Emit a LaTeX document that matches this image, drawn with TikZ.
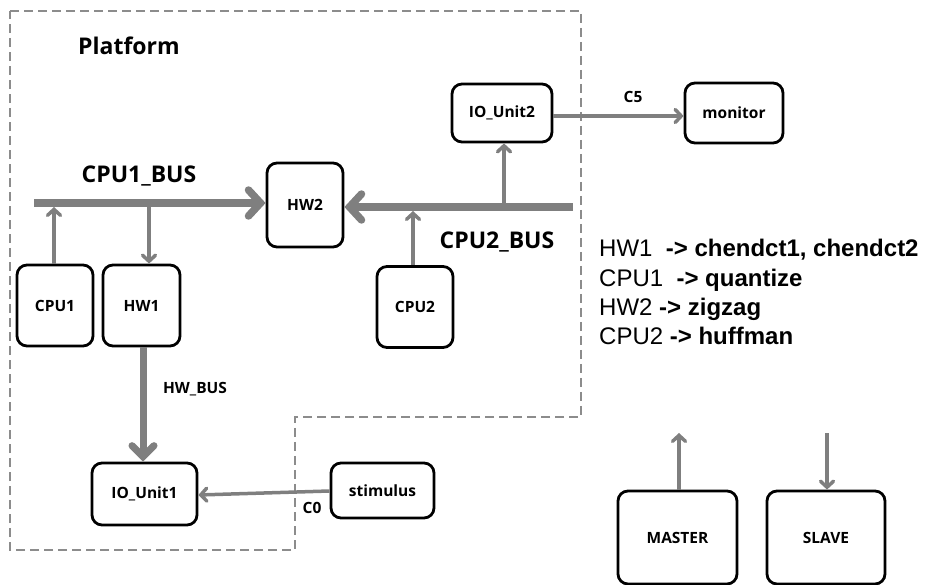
\documentclass[tikz,border=0pt]{standalone}
\usepackage{fontspec}
\setmainfont{Open Sans}
\newfontfamily\listfont{Liberation Sans}
\usetikzlibrary{arrows.meta}
\definecolor{linkgray}{HTML}{7F7F7F}
\definecolor{framegray}{HTML}{8C8C8C}
\tikzset{
  unit/.style={draw=black, line width=2.8pt, rounded corners=10pt, fill=white,
    inner sep=0pt, font=\fontsize{15.5}{18}\selectfont\bfseries},
  link/.style={draw=linkgray, line width=3.5pt,
    -{Straight Barb[length=6pt,width=13pt,line cap=round]}},
  bus/.style={draw=linkgray, line width=7.5pt,
    -{Straight Barb[length=12pt,width=26pt,line cap=round]}},
  hwbus/.style={draw=linkgray, line width=7pt,
    -{Straight Barb[length=11pt,width=22pt,line cap=round]}},
  title/.style={font=\fontsize{23}{27}\selectfont\bfseries},
  small/.style={font=\fontsize{15.5}{18}\selectfont\bfseries},
  maplist/.style={anchor=base west, inner sep=0pt, font=\listfont\fontsize{24}{28}\selectfont},
}
\begin{document}
\begin{tikzpicture}[x=1pt,y=-1pt]
\useasboundingbox (0,0) rectangle (927,585);

% platform boundary
\draw[framegray, line width=2.2pt, dash pattern=on 9pt off 5pt]
  (10,11) -- (581,11) -- (581,417) -- (295,417) -- (295,550) -- (10,550) -- cycle;
\node[title] (platform) at (129,46) {Platform};

% processing elements
\node[unit, minimum width=76pt, minimum height=84pt] (hw2) at (305,205) {HW2};
\node[unit, minimum width=100pt, minimum height=58pt] (io2) at (502,113) {IO\_Unit2};
\node[unit, minimum width=98pt, minimum height=60pt] (monitor) at (734,113) {monitor};
\node[unit, minimum width=76pt, minimum height=81pt] (cpu1) at (55,305.5) {CPU1};
\node[unit, minimum width=77pt, minimum height=81pt] (hw1) at (141.5,305.5) {HW1};
\node[unit, minimum width=76pt, minimum height=81pt] (cpu2) at (415,307) {CPU2};
\node[unit, minimum width=105pt, minimum height=62pt] (io1) at (144.5,494) {IO\_Unit1};
\node[unit, minimum width=103pt, minimum height=55pt] (stim) at (382.5,490.5) {stimulus};
\node[unit, minimum width=119pt, minimum height=93pt] (master) at (677.5,537.5) {MASTER};
\node[unit, minimum width=118pt, minimum height=93pt] (slave) at (826,537.5) {SLAVE};

% bus end points
\coordinate (b1start) at (34,203);
\coordinate (b2start) at (573,207);
\coordinate (mfree) at (679,433);
\coordinate (sfree) at (827,433);

% buses
\draw[bus] (b1start) -- (b1start -| hw2.west);
\draw[bus] (b2start) -- (b2start -| hw2.east);
\draw[hwbus] (hw1.south -| 143,0) -- (io1.north -| 143,0);

% bus taps
\draw[link] (cpu1.north -| 54,0) -- (54,207);
\draw[link] (149,207) -- (hw1.north -| 149,0);
\draw[link] (cpu2.north -| 413,0) -- (413,211);
\draw[link] (504,203) -- (io2.south -| 504,0);

% channels
\draw[link] (io2.east |- 0,116) -- (monitor.west |- 0,116);
\node[small] (c5) at (633,97) {C5};
\draw[link] (stim.west |- 0,491) -- (io1.east |- 0,495);
\node[small] (c0) at (312,508) {C0};

% master / slave ports
\draw[link] (master.north -| mfree) -- (mfree);
\draw[link] (sfree) -- (slave.north -| sfree);

% bus labels
\node[title] (cpu1bus) at (139,176) {CPU1\_BUS};
\node[title] (cpu2bus) at (497,242) {CPU2\_BUS};
\node[small] (hwbuslbl) at (195,389) {HW\_BUS};

% mapping list
\node[maplist] (m1) at (599,257) {HW1\ \ \textbf{-> chendct1, chendct2}};
\node[maplist] (m2) at (599,286.5) {CPU1\ \ \textbf{-> quantize}};
\node[maplist] (m3) at (599,315.5) {HW2 \textbf{-> zigzag}};
\node[maplist] (m4) at (599,344.5) {CPU2 \textbf{-> huffman}};
\end{tikzpicture}
\end{document}
